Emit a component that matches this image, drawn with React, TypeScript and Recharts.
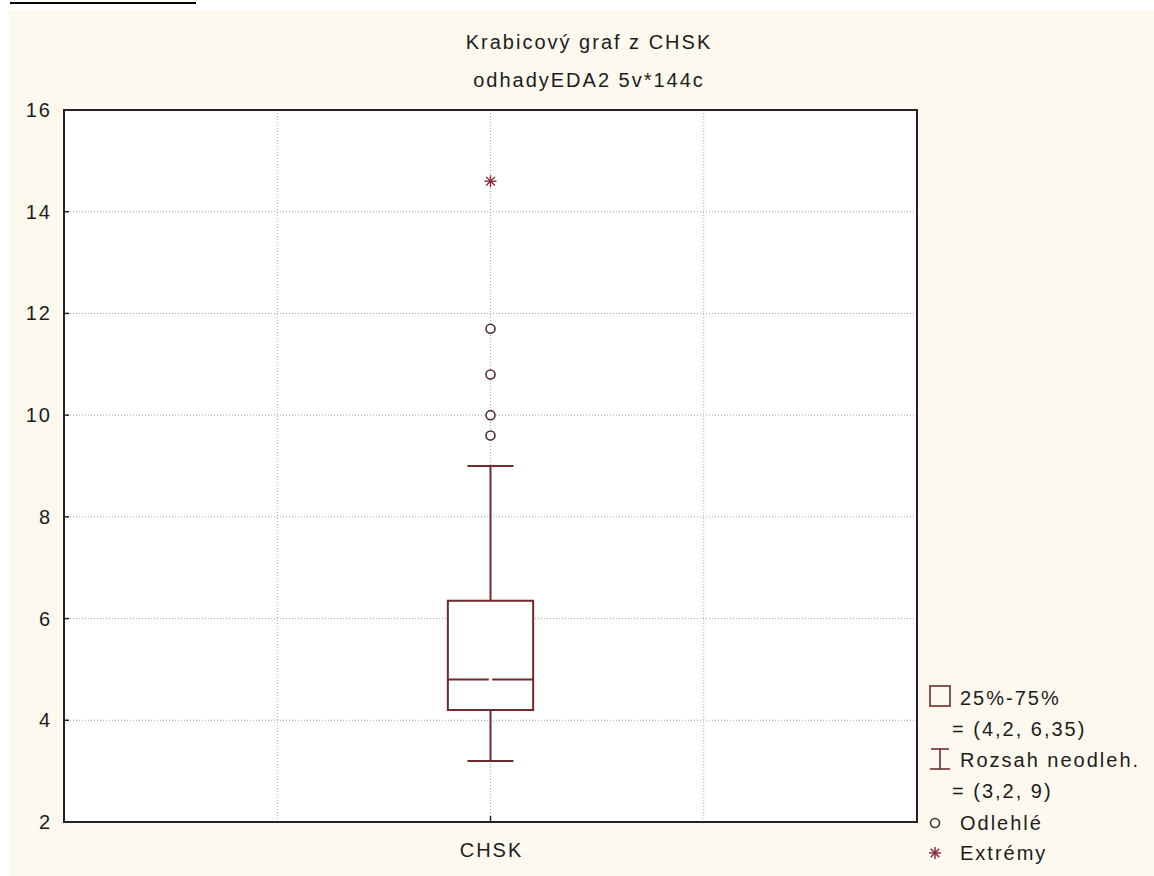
import React from "react";
import {
  ComposedChart,
  XAxis,
  YAxis,
  CartesianGrid,
  ReferenceArea,
  ReferenceLine,
  Scatter,
  Legend,
} from "recharts";

// box plot summary for CHSK
const category = "CHSK";
const quartiles = [4.2, 6.35];
const median = 4.8;
const whiskerRange = [3.2, 9];
const outliers = [9.6, 10.0, 10.8, 11.7];
const extremes = [14.6];
const yTicks = [2, 4, 6, 8, 10, 12, 14, 16];
const titleLines = ["Krabicový graf z CHSK", "odhadyEDA2 5v*144c"];

const FONT = "'Liberation Sans', Arial, sans-serif";
const TEXT = "#1c1c1c";
const BOX = "#6e2a2c";
const POINT = "#4e2f30";
const EXTREME = "#8a2434";

// x layout: single category sits in the middle of a 0..4 span
const CENTER = 2;
const BOX_HALF = 0.2;
const CAP_HALF = 0.108;
const GAP = 0.008;

const fmt = (v: number) => String(v).replace(".", ",");

const outlierPts = outliers.map((y) => ({ x: CENTER, y }));
const extremePts = extremes.map((y) => ({ x: CENTER, y }));

const textStyle: React.CSSProperties = { letterSpacing: 2 };

const YTick = (props: any) => {
  const { x, y, payload } = props;
  return (
    <g>
      <text x={x + 2} y={y} dy={7} textAnchor="end" fontSize={20} fill={TEXT} fontFamily={FONT} style={textStyle}>
        {payload.value}
      </text>
      <line x1={x + 14} x2={x + 19} y1={y} y2={y} stroke="#222" strokeWidth={1.5} />
    </g>
  );
};

const XTick = (props: any) => {
  const { x, y, payload } = props;
  if (payload.value !== CENTER) return <g />;
  return (
    <g>
      <text x={x + 1} y={y} dy={35} textAnchor="middle" fontSize={20} fill={TEXT} fontFamily={FONT} style={textStyle}>
        {category}
      </text>
      <line x1={x} x2={x} y1={y} y2={y - 6} stroke="#222" strokeWidth={1.5} />
    </g>
  );
};

const Circle = (props: any) => (
  <circle cx={props.cx} cy={props.cy} r={4.5} fill="#fff" stroke={POINT} strokeWidth={1.6} />
);

const Star = (props: any) => {
  const { cx, cy } = props;
  const r = 6;
  const d = r * 0.72;
  return (
    <g stroke={EXTREME} strokeWidth={1.4}>
      <line x1={cx - r} x2={cx + r} y1={cy} y2={cy} />
      <line x1={cx} x2={cx} y1={cy - r} y2={cy + r} />
      <line x1={cx - d} x2={cx + d} y1={cy - d} y2={cy + d} />
      <line x1={cx - d} x2={cx + d} y1={cy + d} y2={cy - d} />
    </g>
  );
};

const legendLines = [
  "25%-75%",
  `= (${fmt(quartiles[0])}, ${fmt(quartiles[1])})`,
  "Rozsah neodleh.",
  `= (${fmt(whiskerRange[0])}, ${fmt(whiskerRange[1])})`,
  "Odlehlé",
  "Extrémy",
];

const LegendBox = () => {
  const base = [25, 56, 87, 118, 150, 180];
  return (
    <svg width={229} height={192} style={{ overflow: "visible" }}>
      <rect x={5} y={6} width={20} height={20} fill="none" stroke={BOX} strokeWidth={1.6} />
      <g stroke={BOX} strokeWidth={1.6}>
        <line x1={6} x2={24} y1={69} y2={69} />
        <line x1={15} x2={15} y1={69} y2={89} />
        <line x1={5} x2={25} y1={89} y2={89} />
      </g>
      <Circle cx={10} cy={143} />
      <Star cx={10} cy={173} />
      {legendLines.map((t, i) => (
        <text
          key={t}
          x={i % 2 === 1 && i < 4 ? 27 : 35}
          y={base[i]}
          fontSize={20}
          fill={TEXT}
          fontFamily={FONT}
          style={textStyle}
        >
          {t}
        </text>
      ))}
    </svg>
  );
};

export default function App() {
  return (
    <div style={{ position: "absolute", left: 0, top: 0, width: 1154, height: 876, background: "#fff", overflow: "hidden" }}>
      <div style={{ position: "absolute", left: 9, top: 10, width: 1145, height: 866, background: "#fdf9ef" }} />
      <div style={{ position: "absolute", left: 10, top: 2, width: 186, height: 2, background: "#000" }} />
      <svg width={1154} height={120} style={{ position: "absolute", left: 0, top: 0 }}>
        {titleLines.map((t, i) => (
          <text
            key={t}
            x={589}
            y={i === 0 ? 49 : 87}
            textAnchor="middle"
            fontSize={20}
            fill={TEXT}
            fontFamily={FONT}
            style={textStyle}
          >
            {t}
          </text>
        ))}
      </svg>
      <div style={{ position: "absolute", left: 0, top: 0 }}>
        <ComposedChart
          width={1154}
          height={876}
          margin={{ top: 110, right: 237, bottom: 24, left: 4 }}
          data={outlierPts}
        >
          <CartesianGrid fill="#fff" stroke="#a8a8a8" strokeDasharray="1 2" />
          <XAxis
            type="number"
            dataKey="x"
            domain={[0, 4]}
            ticks={[1, 2, 3]}
            height={30}
            axisLine={false}
            tickLine={false}
            tickSize={0}
            tickMargin={0}
            tick={<XTick />}
            interval={0}
          />
          <YAxis
            type="number"
            domain={[2, 16]}
            ticks={yTicks}
            width={60}
            axisLine={false}
            tickLine={false}
            tickSize={0}
            tickMargin={14}
            tick={<YTick />}
            interval={0}
          />
          <ReferenceArea x1={0} x2={4} y1={2} y2={16} fill="none" stroke="#222" strokeWidth={2} />
          <ReferenceArea
            x1={CENTER - BOX_HALF}
            x2={CENTER + BOX_HALF}
            y1={quartiles[0]}
            y2={quartiles[1]}
            fill="#fff"
            fillOpacity={1}
            stroke={BOX}
            strokeWidth={2}
          />
          <ReferenceLine
            segment={[{ x: CENTER - BOX_HALF, y: median }, { x: CENTER - GAP, y: median }]}
            stroke={BOX}
            strokeWidth={2}
          />
          <ReferenceLine
            segment={[{ x: CENTER + GAP, y: median }, { x: CENTER + BOX_HALF, y: median }]}
            stroke={BOX}
            strokeWidth={2}
          />
          <ReferenceLine
            segment={[{ x: CENTER, y: quartiles[1] }, { x: CENTER, y: whiskerRange[1] }]}
            stroke={BOX}
            strokeWidth={2}
          />
          <ReferenceLine
            segment={[{ x: CENTER, y: whiskerRange[0] }, { x: CENTER, y: quartiles[0] }]}
            stroke={BOX}
            strokeWidth={2}
          />
          <ReferenceLine
            segment={[{ x: CENTER - CAP_HALF, y: whiskerRange[1] }, { x: CENTER + CAP_HALF, y: whiskerRange[1] }]}
            stroke={BOX}
            strokeWidth={2}
          />
          <ReferenceLine
            segment={[{ x: CENTER - CAP_HALF, y: whiskerRange[0] }, { x: CENTER + CAP_HALF, y: whiskerRange[0] }]}
            stroke={BOX}
            strokeWidth={2}
          />
          <Scatter data={outlierPts} dataKey="y" shape={Circle} isAnimationActive={false} />
          <Scatter data={extremePts} dataKey="y" shape={Star} isAnimationActive={false} />
          <Legend
            layout="vertical"
            align="center"
            verticalAlign="middle"
            wrapperStyle={{ left: 925, top: 680, width: 229 }}
            content={() => <LegendBox />}
          />
        </ComposedChart>
      </div>
    </div>
  );
}
